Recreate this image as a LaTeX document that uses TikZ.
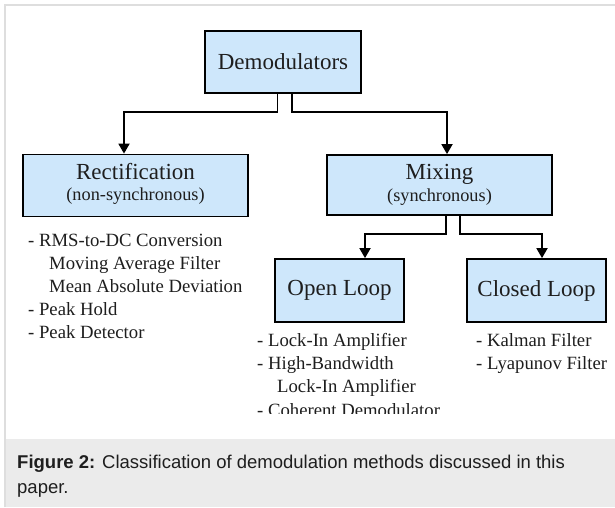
\documentclass[tikz,border=0pt]{standalone}
\usepackage{fontspec}
\setmainfont{Liberation Serif}
\newfontfamily\capfont{Liberation Sans}
\usetikzlibrary{arrows.meta,calc}
\definecolor{boxblue}{RGB}{206,231,251}
\definecolor{framegray}{RGB}{222,222,222}
\definecolor{capgray}{RGB}{235,235,235}
\definecolor{txt}{RGB}{30,30,30}
\begin{document}
\begin{tikzpicture}[x=1pt,y=-1pt,
  box/.style={draw=black,line width=1.8pt,fill=boxblue,inner sep=0pt},
  arr/.style={line width=1.8pt,-{Triangle[width=11pt,length=10pt]}},
  ttl/.style={font=\fontsize{23}{24}\selectfont,inner sep=0pt,text=txt},
  sub/.style={font=\fontsize{18.3}{20}\selectfont,inner sep=0pt,text=txt},
  lst/.style={font=\fontsize{18.7}{20}\selectfont,inner sep=0pt,anchor=base west,text=txt},
  captxt/.style={font=\capfont\fontsize{18.5}{22}\selectfont,inner sep=0pt,anchor=base west,text=txt}
]
\useasboundingbox (0,0) rectangle (615,507);
\fill[white] (0,0) rectangle (615,507);
\fill[capgray] (6,439) rectangle (615,507);
\draw[framegray,line width=2pt] (5,507) -- (5,5) -- (615,5);

\begin{scope}
\clip (6,6) rectangle (615,413);
% boxes
\node[box,minimum width=156pt,minimum height=62pt] (demod) at (283,62) {};
\node[ttl] (demodt) at (demod.center) {Demodulators};

\node[box,minimum width=225pt,minimum height=62pt] (rect) at (135.5,185.5) {};
\node[ttl,anchor=base] (rectt) at ($(rect.north)+(0,25.5)$) {Rectification};
\node[sub,anchor=base] (rects) at ($(rect.north)+(0,47)$) {(non-synchronous)};

\node[box,minimum width=225pt,minimum height=60pt] (mix) at (439.5,185) {};
\node[ttl,anchor=base] (mixt) at ($(mix.north)+(0,25.5)$) {Mixing};
\node[sub,anchor=base] (mixs) at ($(mix.north)+(0,47)$) {(synchronous)};

\node[box,minimum width=129pt,minimum height=63pt] (open) at (339.5,290.5) {};
\node[ttl] (opent) at (open.center) {Open Loop};

\node[box,minimum width=139pt,minimum height=63pt] (closed) at (536.5,290.5) {};
\node[ttl] (closedt) at (closed.center) {Closed Loop};

% connectors
\draw[arr] ([xshift=-5.5pt]demod.south) -- ++(0,18) -| ([xshift=-11.5pt]rect.north);
\draw[arr] ([xshift=9pt]demod.south) -- ++(0,18) -| ([xshift=7.5pt]mix.north);
\draw[arr] ([xshift=6.5pt]mix.south) -- ++(0,18) -| ([xshift=25.5pt]open.north);
\draw[arr] ([xshift=20.5pt]mix.south) -- ++(0,18) -| ([xshift=5.5pt]closed.north);

% lists
\node[lst] (r1) at (28,246) {- RMS-to-DC Conversion};
\node[lst] (r2) at (49,269) {Moving Average Filter};
\node[lst] (r3) at (49,292) {Mean Absolute Deviation};
\node[lst] (r4) at (28,315) {- Peak Hold};
\node[lst] (r5) at (28,338) {- Peak Detector};

\node[lst] (o1) at (257,346.5) {- Lock-In Amplifier};
\node[lst] (o2) at (257,369.5) {- High-Bandwidth};
\node[lst] (o3) at (277,392.5) {Lock-In Amplifier};
\node[lst] (o4) at (257,416) {- Coherent Demodulator};

\node[lst] (c1) at (476,346.5) {- Kalman Filter};
\node[lst] (c2) at (476,369) {- Lyapunov Filter};
\end{scope}

% caption
\node[captxt] (cap1) at (17,468) {\textbf{Figure 2:} Classification of demodulation methods discussed in this};
\node[captxt] (cap2) at (17,493) {paper.};
\end{tikzpicture}
\end{document}
